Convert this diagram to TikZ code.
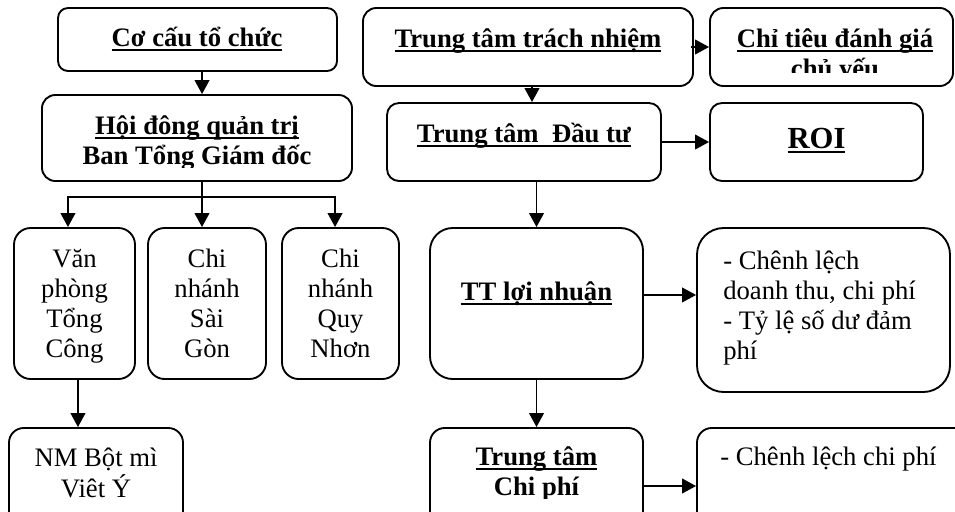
\documentclass[tikz,border=0pt]{standalone}
\usepackage{fontspec}
\setmainfont{Liberation Serif}
\usetikzlibrary{arrows.meta,fit}

\newsavebox\undlbox
\newcommand{\undl}[1]{\sbox\undlbox{#1}\usebox\undlbox\llap{\rule[-4pt]{\wd\undlbox}{1.6pt}}}
\newcommand{\txtrows}[2]{\begin{tabular}[t]{@{}#1@{}}#2\end{tabular}}

\begin{document}
\begin{tikzpicture}[x=0.75pt, y=-0.75pt,
	box/.style={draw, line width=1.4pt, rounded corners=#1, inner sep=0pt},
	box/.default=9pt,
	txt/.style={inner sep=0pt, anchor=base, font=\fontsize{20}{22.7}\selectfont},
	head/.style={txt, font=\fontsize{20}{22.7}\selectfont\bfseries},
	arr/.style={-{Triangle[length=10.5pt,width=11pt]}, line width=1.4pt},
	wire/.style={line width=1.4pt}]
	\useasboundingbox (0,0) rectangle (955,511);

	\node[box=7.5pt, fit={(58,8) (337,71)}] (cocau) {};
	\node[head] (cocaut) at (197,46) {\undl{Cơ cấu tổ chức}};

	\node[box=10pt, fit={(42,95) (352,181)}] (hdqt) {};
	\begin{scope}
		\clip (42,95) rectangle (352,167);
		\node[head] (hdqtt) at (197,134) {\txtrows{c}{\undl{Hội đông quản trị}\\Ban Tổng Giám đốc}};
	\end{scope}

	\node[box=12.5pt, fit={(14,228) (135,379)}] (vp) {};
	\node[txt] (vpt) at (74.5,267) {\txtrows{c}{Văn\\phòng\\Tổng\\Công}};
	\node[box=12.5pt, fit={(148,228) (266,379)}] (cnsg) {};
	\node[txt] (cnsgt) at (207,267) {\txtrows{c}{Chi\\nhánh\\Sài\\Gòn}};
	\node[box=12.5pt, fit={(282,228) (399,379)}] (cnqn) {};
	\node[txt] (cnqnt) at (340.5,267) {\txtrows{c}{Chi\\nhánh\\Quy\\Nhơn}};
	\node[box=11pt, fit={(9,428) (183,530)}] (nm) {};
	\node[txt] (nmt) at (96,466) {\txtrows{c}{NM Bột mì\\Viêt Ý}};

	\node[box=10pt, fit={(363,8) (693,86)}] (ttn) {};
	\node[head] (ttnt) at (528,47) {\undl{Trung tâm trách nhiệm}};
	\node[box=10pt, fit={(710,8) (953,86)}] (ctdg) {};
	\begin{scope}
		\clip (710,8) rectangle (953,72);
		\node[head] (ctdgt) at (835,47) {\txtrows{c}{\undl{Chỉ tiêu đánh giá}\\\undl{chủ yếu}}};
	\end{scope}

	\node[box=9pt, fit={(387,103) (661,181)}] (dautu) {};
	\begin{scope}
		\clip (387,103) rectangle (661,148);
		\node[head] (dautut) at (524,142) {\undl{Trung tâm~ Đầu tư}};
	\end{scope}
	\node[box=9pt, fit={(710,103) (923,181)}] (roi) {};
	\node[head, font=\fontsize{23}{26}\selectfont\bfseries] (roit) at (816.5,148) {\undl{ROI}};

	\node[box=17pt, fit={(430,228) (643,379)}] (ttln) {};
	\node[head] (ttlnt) at (536.5,300) {\undl{TT lợi nhuận}};
	\node[box=20pt, fit={(697,228) (950,392)}] (ln) {};
	\node[txt, anchor=base west] (lnt) at (723,269) {\txtrows{l}{- Chênh lệch\\doanh thu, chi phí\\- Tỷ lệ số dư đảm\\phí}};

	\node[box=11pt, fit={(430,428) (643,530)}] (cp) {};
	\begin{scope}
		\clip (430,428) rectangle (643,498);
		\node[head] (cpt) at (536.5,465) {\txtrows{c}{\undl{Trung tâm}\\Chi phí}};
	\end{scope}
	\node[box=11pt, fit={(697,428) (970,530)}] (cpr) {};
	\node[txt, anchor=base west] (cprt) at (720,465) {- Chênh lệch chi phí};

	\coordinate (bus) at (202,197);
	\draw[arr] ([xshift=3.4pt]cocau.south) -- ([xshift=3.4pt]cocau.south |- hdqt.north);
	\draw[wire] (hdqt.south -| bus) -- (bus);
	\draw[arr] (bus) -| ([xshift=-4.9pt]vp.north);
	\draw[arr] (bus) -- (bus |- cnsg.north);
	\draw[arr] (bus) -| ([xshift=-4.1pt]cnqn.north);
	\draw[arr] ([xshift=2.6pt]vp.south) -- ([xshift=2.6pt]vp.south |- nm.north);

	\draw[arr] ([xshift=-2.3pt]ttn.east) -- (ctdg.west);
	\draw[arr] ([xshift=3pt]ttn.south) -- ([xshift=3pt]ttn.south |- dautu.north);
	\draw[arr] (dautu.east) -- (roi.west);
	\draw[arr] (dautu.south -| ttln.north) -- (ttln.north);
	\draw[arr] ([yshift=6.4pt]ttln.east) -- ([yshift=6.4pt]ttln.east -| ln.west);
	\draw[arr] (ttln.south) -- (cp.north);
	\draw[arr] ([xshift=-1.5pt,yshift=-5.25pt]cp.east) -- ([yshift=-5.25pt]cp.east -| cpr.west);
\end{tikzpicture}
\end{document}
